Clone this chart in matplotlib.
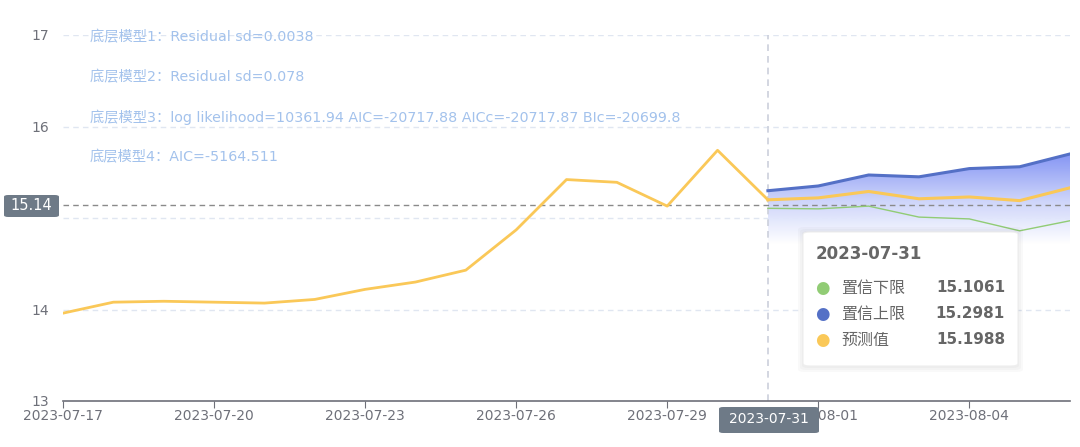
import matplotlib
matplotlib.use("Agg")
import matplotlib.pyplot as plt
import matplotlib.dates as mdates
from matplotlib.patches import FancyBboxPatch, Polygon
from matplotlib.colors import LinearSegmentedColormap
import numpy as np
import pandas as pd

plt.rcParams['font.family'] = ['DejaVu Sans', 'Noto Sans CJK SC']

hist_dates = pd.date_range('2023-07-17', '2023-07-31', freq='D')
hist_values = [13.96, 14.08, 14.09, 14.08, 14.07, 14.11, 14.22, 14.30, 14.43,
               14.87, 15.42, 15.39, 15.13, 15.74, 15.1988]
fc_dates = pd.date_range('2023-07-31', '2023-08-06', freq='D')
fc_values = [15.1988, 15.22, 15.29, 15.21, 15.23, 15.19, 15.33]
upper_values = [15.2981, 15.35, 15.47, 15.45, 15.54, 15.56, 15.70]
lower_values = [15.1061, 15.10, 15.13, 15.01, 14.99, 14.86, 14.97]

annotations = [
    "底层模型1：Residual sd=0.0038",
    "底层模型2：Residual sd=0.078",
    "底层模型3：log likelihood=10361.94 AIC=-20717.88 AICc=-20717.87 BIc=-20699.8",
    "底层模型4：AIC=-5164.511",
]
tick_dates = pd.to_datetime(['2023-07-17', '2023-07-20', '2023-07-23', '2023-07-26',
                             '2023-07-29', '2023-08-01', '2023-08-04'])
y_ticks = [13, 14, 15, 16, 17]
cursor_date = pd.Timestamp('2023-07-31')
cursor_y = 15.14
tooltip_title = "2023-07-31"
tooltip_rows = [("置信下限", "15.1061", '#91cc75'),
                ("置信上限", "15.2981", '#5470c6'),
                ("预测值", "15.1988", '#fac858')]

fig = plt.figure(figsize=(10.8, 4.47), dpi=100)
ax = fig.add_axes([63/1080, 46/447, 1007/1080, 366/447])
ax.set_xlim(pd.Timestamp('2023-07-17'), pd.Timestamp('2023-08-06'))
ax.set_ylim(13, 17)

for s in ['top', 'right', 'left']:
    ax.spines[s].set_visible(False)
ax.spines['bottom'].set_color('#6e7079')
ax.spines['bottom'].set_linewidth(1.2)

ax.set_yticks(y_ticks)
ax.set_yticklabels([str(v) if v != 15 else '' for v in y_ticks])
ax.tick_params(axis='y', length=0, pad=10, labelsize=10, labelcolor='#6e7079')
ax.set_xticks(tick_dates)
ax.set_xticklabels([d.strftime('%Y-%m-%d') for d in tick_dates])
ax.tick_params(axis='x', length=5, color='#6e7079', labelsize=10, labelcolor='#6e7079', pad=1)
for y in y_ticks[1:]:
    ax.axhline(y, color='#e0e6f1', lw=1, ls=(0, (4, 3)), zorder=0)

# gradient area under upper bound
xn = mdates.date2num(fc_dates)
ytop = max(upper_values)
ybot = 14.72
grad = np.linspace(0, 1, 256).reshape(-1, 1)
cmap = LinearSegmentedColormap.from_list('g', ['#ffffff', '#c9d1fa', '#7f90f4'])
im = ax.imshow(grad, cmap=cmap, aspect='auto', origin='lower',
               extent=[xn[0], xn[-1], ybot, ytop], zorder=1, alpha=0.95)
poly = Polygon(list(zip(xn, upper_values)) + [(xn[-1], ybot), (xn[0], ybot)],
               closed=True, transform=ax.transData, facecolor='none', edgecolor='none')
ax.add_patch(poly)
im.set_clip_path(poly)
ax.set_xlim(pd.Timestamp('2023-07-17'), pd.Timestamp('2023-08-06'))
ax.set_ylim(13, 17)

ax.plot(fc_dates, lower_values, color='#91cc75', lw=1.0, zorder=3)
ax.plot(fc_dates, upper_values, color='#5470c6', lw=2.2, zorder=3)
ax.plot(hist_dates, hist_values, color='#fac858', lw=2.0, zorder=4)
ax.plot(fc_dates, fc_values, color='#fac858', lw=2.2, zorder=4)

# crosshair
ax.axvline(cursor_date, color='#ccd0dc', lw=1.2, ls=(0, (4, 3)), zorder=2)
ax.axhline(cursor_y, color='#8a8a8a', lw=1.0, ls=(0, (4, 3)), zorder=2)

# annotations
for i, t in enumerate(annotations):
    fig.text(90/1080, 1 - (37 + 40*i)/447, t, fontsize=10.3, color='#a3c2ec',
             va='center', ha='left')

# y cursor label
fig.patches.append(FancyBboxPatch((4/1080, 1 - 217/447), 55/1080, 22/447,
                                  boxstyle='round,pad=0,rounding_size=0.004',
                                  transform=fig.transFigure, facecolor='#6e7a87',
                                  edgecolor='none'))
fig.text(31/1080, 1 - 205/447, "15.14", color='white', fontsize=10.5, ha='center', va='center')

# x cursor label
fig.patches.append(FancyBboxPatch((719/1080, 1 - 433/447), 100/1080, 26/447,
                                  boxstyle='round,pad=0,rounding_size=0.004',
                                  transform=fig.transFigure, facecolor='#6e7a87',
                                  edgecolor='none', zorder=3))
fig.text(769/1080, 1 - 419/447, "2023-07-31", color='white', fontsize=10, ha='center',
         va='center', zorder=4)

# tooltip
for k in range(3):
    fig.patches.append(FancyBboxPatch(((803 - 2*k - 1)/1080, 1 - (368 + 2*k)/447),
                                      (215 + 4*k + 2)/1080, (135 + 4*k + 2)/447,
                                      boxstyle='round,pad=0,rounding_size=0.006',
                                      transform=fig.transFigure, facecolor='black',
                                      edgecolor='none', alpha=0.025, zorder=5))
fig.patches.append(FancyBboxPatch((803/1080, 1 - 366/447), 215/1080, 134/447,
                                  boxstyle='round,pad=0,rounding_size=0.006',
                                  transform=fig.transFigure, facecolor='white',
                                  edgecolor='#eeeeee', lw=0.8, zorder=6))
fig.text(816/1080, 1 - 254/447, tooltip_title, fontsize=12, fontweight='bold',
         color='#666666', ha='left', va='center', zorder=7)
for i, (name, val, col) in enumerate(tooltip_rows):
    yy = 1 - (288 + 26*i)/447
    fig.text(822/1080, yy, '●', fontsize=12, color=col, ha='center', va='center', zorder=7)
    fig.text(841/1080, yy, name, fontsize=11.5, color='#666666', ha='left', va='center', zorder=7)
    fig.text(1005/1080, yy, val, fontsize=11, fontweight='bold', color='#666666',
             ha='right', va='center', zorder=7)

fig.savefig('out.png', dpi=100)
